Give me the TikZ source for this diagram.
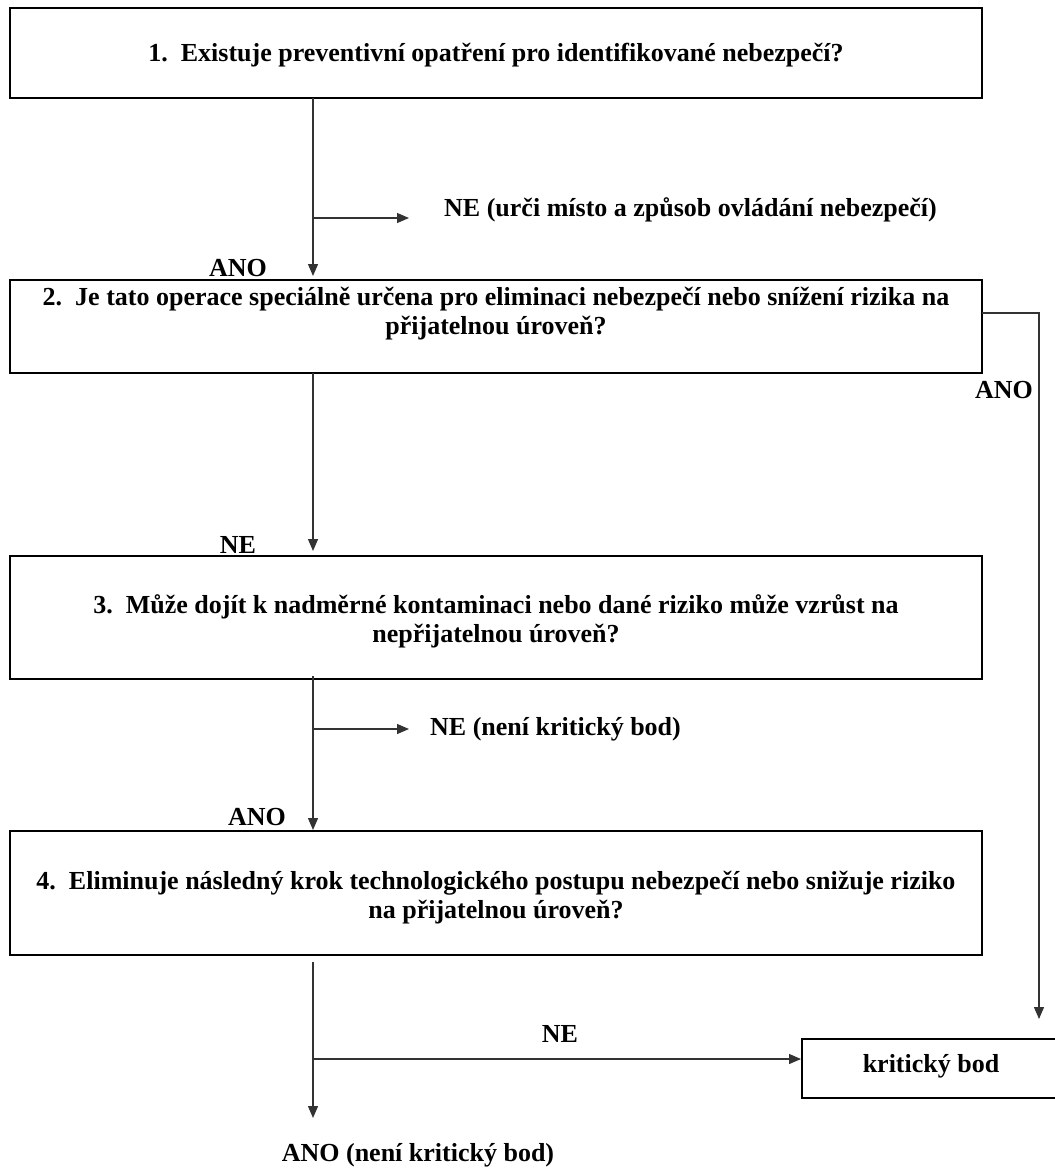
\documentclass[tikz,border=0pt]{standalone}
\usepackage{fontspec}
\setmainfont{Liberation Serif}
\usetikzlibrary{arrows.meta}
\begin{document}
\begin{tikzpicture}[x=1pt,y=-1pt,
  box/.style={draw, line width=2pt, inner sep=0pt},
  txt/.style={font=\bfseries\fontsize{26}{29}\selectfont, align=center, inner sep=0pt},
  lbl/.style={font=\bfseries\fontsize{26}{29}\selectfont, inner sep=0pt},
  conn/.style={line width=1.3pt, draw=black!80, -{Triangle[length=12pt,width=10pt]}}]
\useasboundingbox (0,0) rectangle (1054,1169);
% boxes
\node[box, minimum width=972pt, minimum height=90pt] (b1) at (496,53) {};
\node[box, minimum width=972pt, minimum height=93pt] (b2) at (496,326.5) {};
\node[box, minimum width=972pt, minimum height=123pt] (b3) at (496,617.5) {};
\node[box, minimum width=972pt, minimum height=124pt] (b4) at (496,893) {};
\node[box, minimum width=256pt, minimum height=59pt] (kb) at (930,1068.5) {};
% texts
\node[txt] (t1) at (496,55) {1.\enspace Existuje preventivní opatření pro identifikované nebezpečí?};
\node[txt] (t2) at (496,314) {2.\enspace Je tato operace speciálně určena pro eliminaci nebezpečí nebo snížení rizika na\\ přijatelnou úroveň?};
\node[txt] (t3) at (496,621) {3.\enspace Může dojít k nadměrné kontaminaci nebo dané riziko může vzrůst na\\ nepřijatelnou úroveň?};
\node[txt] (t4) at (496,898) {4.\enspace Eliminuje následný krok technologického postupu nebezpečí nebo snižuje riziko\\ na přijatelnou úroveň?};
\node[txt] (tk) at (931,1066) {kritický bod};
% coordinates
\coordinate (a1) at (313,98);
\coordinate (a1e) at (313,276);
\coordinate (n1) at (313,218);
\coordinate (n1e) at (409,218);
\coordinate (a2) at (313,373);
\coordinate (a2e) at (313,551);
\coordinate (r1) at (982,313);
\coordinate (r2) at (1039,313);
\coordinate (r3) at (1039,1019);
\coordinate (a3) at (313,676);
\coordinate (a3e) at (313,830);
\coordinate (n2) at (313,729);
\coordinate (n2e) at (409,729);
\coordinate (a4) at (313,962);
\coordinate (a4e) at (313,1118);
\coordinate (n3) at (313,1059);
% connectors
\draw[conn] (a1) -- (a1e);
\draw[conn] (n1) -- (n1e);
\draw[conn] (a2) -- (a2e);
\draw[conn] (r1) -- (r2) -- (r3);
\draw[conn] (a3) -- (a3e);
\draw[conn] (n2) -- (n2e);
\draw[conn] (a4) -- (a4e);
\draw[conn] (n3) -- (n3 -| kb.west);
% labels
\node[lbl, anchor=west] (l1) at (444,210) {NE (urči místo a způsob ovládání nebezpečí)};
\node[lbl] (l2) at (238,268) {ANO};
\node[lbl] (l3) at (1004,390) {ANO};
\node[lbl] (l4) at (238,545) {NE};
\node[lbl, anchor=west] (l5) at (430,729) {NE (není kritický bod)};
\node[lbl] (l6) at (257,817) {ANO};
\node[lbl] (l7) at (560,1034) {NE};
\node[lbl] (l8) at (418,1155) {ANO (není kritický bod)};
\end{tikzpicture}
\end{document}
